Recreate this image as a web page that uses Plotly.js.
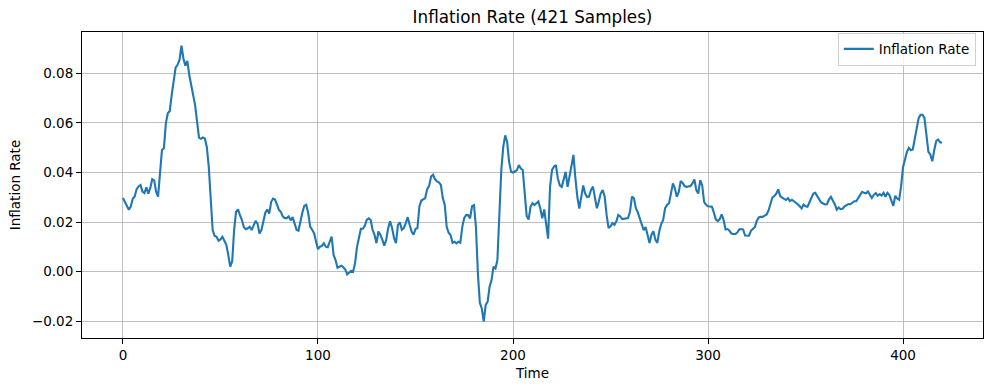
<!DOCTYPE html>
<html>
<head>
<meta charset="utf-8">
<script src="https://cdn.plot.ly/plotly-3.0.1.min.js"></script>
<style>html,body{margin:0;padding:0;background:#fff;}#chart{width:989px;height:390px;}</style>
</head>
<body>
<div id="chart"></div>
<script>
const seriesName = "Inflation Rate";
const inflation = [
0.0297,0.0283,0.0267,0.0250,0.0263,0.0294,0.0303,0.0333,0.0344,0.0350,
0.0323,0.0317,0.0340,0.0315,0.0337,0.0373,0.0368,0.0323,0.0303,0.0404,
0.0491,0.0498,0.0599,0.0639,0.0648,0.0713,0.0780,0.0823,0.0834,0.0854,
0.0911,0.0860,0.0831,0.0850,0.0793,0.0753,0.0700,0.0672,0.0605,0.0541,
0.0536,0.0541,0.0537,0.0503,0.0423,0.0275,0.0168,0.0144,0.0141,0.0125,
0.0130,0.0141,0.0125,0.0108,0.0068,0.0021,0.0041,0.0168,0.0242,0.0251,
0.0228,0.0208,0.0179,0.0171,0.0175,0.0181,0.0168,0.0188,0.0205,0.0194,
0.0154,0.0168,0.0201,0.0238,0.0251,0.0234,0.0282,0.0295,0.0291,0.0269,
0.0249,0.0240,0.0222,0.0216,0.0216,0.0223,0.0207,0.0220,0.0189,0.0169,
0.0165,0.0209,0.0239,0.0266,0.0270,0.0236,0.0182,0.0169,0.0155,0.0122,
0.0091,0.0101,0.0104,0.0115,0.0101,0.0099,0.0122,0.0142,0.0068,0.0047,
0.0016,0.0020,0.0024,0.0018,0.0009,-0.0011,-0.0004,0.0004,0.0000,0.0034,
0.0099,0.0142,0.0173,0.0173,0.0185,0.0209,0.0215,0.0209,0.0169,0.0149,
0.0115,0.0162,0.0149,0.0129,0.0105,0.0129,0.0176,0.0203,0.0176,0.0136,
0.0115,0.0189,0.0199,0.0169,0.0176,0.0196,0.0220,0.0189,0.0162,0.0149,
0.0172,0.0176,0.0263,0.0287,0.0294,0.0297,0.0333,0.0346,0.0384,0.0391,
0.0373,0.0364,0.0360,0.0350,0.0297,0.0270,0.0181,0.0157,0.0148,0.0117,
0.0121,0.0114,0.0121,0.0117,0.0181,0.0217,0.0228,0.0228,0.0215,0.0264,
0.0268,0.0181,-0.0007,-0.0125,-0.0148,-0.0201,-0.0134,-0.0121,-0.0060,-0.0034,
0.0020,0.0013,0.0047,0.0221,0.0409,0.0503,0.0550,0.0523,0.0443,0.0403,
0.0400,0.0404,0.0410,0.0430,0.0416,0.0410,0.0320,0.0225,0.0210,0.0262,
0.0276,0.0269,0.0276,0.0283,0.0255,0.0215,0.0251,0.0194,0.0133,0.0342,
0.0410,0.0423,0.0430,0.0376,0.0348,0.0342,0.0376,0.0403,0.0342,0.0383,
0.0437,0.0471,0.0376,0.0301,0.0255,0.0296,0.0348,0.0315,0.0301,0.0303,
0.0330,0.0343,0.0303,0.0256,0.0283,0.0316,0.0329,0.0303,0.0229,0.0176,
0.0183,0.0196,0.0189,0.0203,0.0229,0.0223,0.0212,0.0213,0.0212,0.0216,
0.0243,0.0303,0.0296,0.0256,0.0239,0.0216,0.0189,0.0167,0.0180,0.0143,
0.0116,0.0149,0.0163,0.0129,0.0116,0.0163,0.0192,0.0209,0.0256,0.0269,
0.0276,0.0316,0.0356,0.0336,0.0302,0.0322,0.0366,0.0358,0.0345,0.0342,
0.0345,0.0345,0.0356,0.0372,0.0329,0.0315,0.0369,0.0349,0.0282,0.0270,
0.0264,0.0264,0.0262,0.0238,0.0211,0.0204,0.0212,0.0231,0.0208,0.0170,
0.0172,0.0165,0.0154,0.0152,0.0152,0.0158,0.0170,0.0172,0.0170,0.0146,
0.0144,0.0145,0.0165,0.0174,0.0180,0.0205,0.0219,0.0221,0.0221,0.0226,
0.0230,0.0246,0.0275,0.0299,0.0305,0.0315,0.0332,0.0305,0.0299,0.0295,
0.0289,0.0297,0.0285,0.0290,0.0285,0.0279,0.0272,0.0264,0.0255,0.0271,
0.0264,0.0262,0.0278,0.0298,0.0315,0.0318,0.0305,0.0289,0.0279,0.0275,
0.0271,0.0272,0.0291,0.0302,0.0289,0.0272,0.0250,0.0259,0.0252,0.0254,
0.0264,0.0268,0.0273,0.0272,0.0279,0.0284,0.0284,0.0297,0.0313,0.0322,
0.0318,0.0316,0.0324,0.0313,0.0297,0.0310,0.0317,0.0306,0.0313,0.0307,
0.0318,0.0302,0.0318,0.0309,0.0283,0.0265,0.0306,0.0295,0.0290,0.0344,
0.0422,0.0453,0.0483,0.0499,0.0490,0.0493,0.0533,0.0578,0.0619,0.0633,
0.0633,0.0619,0.0551,0.0483,0.0473,0.0445,0.0490,0.0527,0.0533,0.0522,
0.0520
];
const time = inflation.map((_, i) => i);
const xTicks = [0, 100, 200, 300, 400];
const yTicks = [-0.02, 0.00, 0.02, 0.04, 0.06, 0.08];

const font = "DejaVu Sans, sans-serif";
const axisCommon = {
  showline: true, mirror: true, linecolor: "#000", linewidth: 1,
  ticks: "outside", ticklen: 5, tickwidth: 1, tickcolor: "#000",
  showgrid: true, gridcolor: "#b0b0b0", gridwidth: 0.8,
  zeroline: false,
  tickfont: {family: font, size: 13.5, color: "#000"}
};

const trace = {
  x: time, y: inflation, type: "scatter", mode: "lines",
  name: seriesName, line: {color: "#1f77b4", width: 2.1}
};

const layout = {
  width: 989, height: 390,
  paper_bgcolor: "#fff", plot_bgcolor: "#fff",
  margin: {l: 82, r: 6, t: 32, b: 52},
  title: {text: "Inflation Rate (421 Samples)", font: {family: font, size: 16.8, color: "#000"},
          xref: "paper", x: 0.5, xanchor: "center", yref: "container", y: 0.955, yanchor: "middle"},
  xaxis: Object.assign({}, axisCommon, {
    range: [-21, 441], tickvals: xTicks, ticktext: xTicks.map(String),
    title: {text: "Time", font: {family: font, size: 13.5, color: "#000"}, standoff: 6}
  }),
  yaxis: Object.assign({}, axisCommon, {
    range: [-0.02673, 0.09665], tickvals: yTicks, tickformat: ".2f",
    title: {text: "Inflation Rate", font: {family: font, size: 13.5, color: "#000"}, standoff: 8}
  }),
  showlegend: true,
  legend: {x: 0.992, xanchor: "right", y: 0.998, yanchor: "top",
           bgcolor: "rgba(255,255,255,0.8)", bordercolor: "#d0d0d0", borderwidth: 1,
           font: {family: font, size: 13.5, color: "#000"}, itemwidth: 30}
};

Plotly.newPlot("chart", [trace], layout, {staticPlot: true, displayModeBar: false});
</script>
</body>
</html>
